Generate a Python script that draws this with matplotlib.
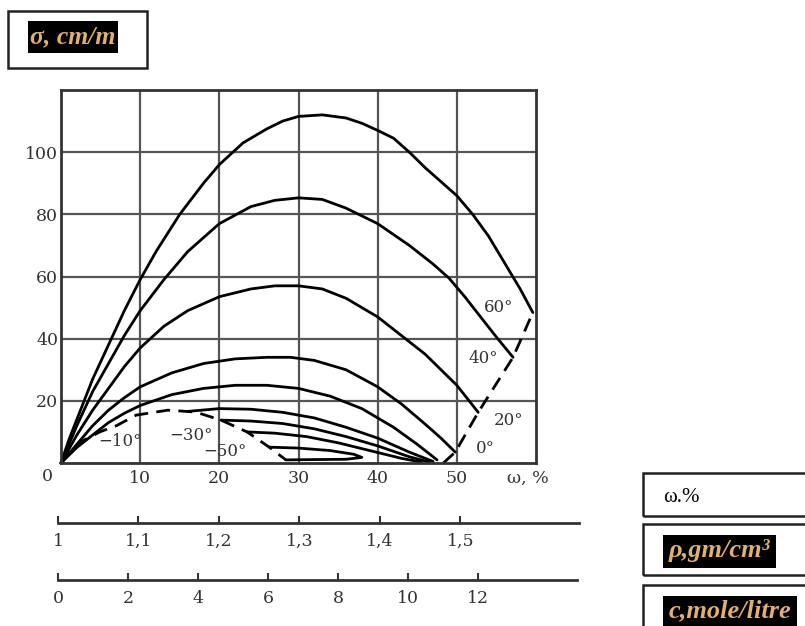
import matplotlib
matplotlib.use("Agg")
import matplotlib.pyplot as plt
from matplotlib.patches import Rectangle

plt.rcParams['font.family'] = ['DejaVu Serif', 'Liberation Serif']

W, H = 805, 626

# ---- data ----
x_ticks = [10, 20, 30, 40, 50]
y_ticks = [20, 40, 60, 80, 100]

t60_x = [0, 1, 2, 4, 6, 8, 10, 12, 15, 18, 20, 23, 26, 28, 30, 33, 36, 38, 40, 42, 44, 46, 48, 50, 52, 54, 56, 58, 59.6]
t60_y = [0, 7.5, 14, 27, 38, 49, 59, 68, 80, 90, 96, 103, 107.5, 110, 111.5, 112, 111, 109.3, 107, 104.5, 100, 95, 90.5, 86, 80, 73, 64.5, 56, 48.4]

t40_x = [0, 1, 2, 4, 6, 8, 10, 13, 16, 20, 24, 27, 30, 33, 36, 40, 44, 47, 49, 51, 53, 55, 57.1]
t40_y = [0, 6, 12, 23, 32, 41, 49, 59, 68, 77, 82.5, 84.5, 85.3, 84.8, 82, 77, 70, 64, 59.5, 53.5, 47, 40.5, 34]

t20_x = [0, 1, 2, 4, 6, 8, 10, 13, 16, 20, 24, 27, 30, 33, 36, 40, 44, 46, 48, 50, 52.7]
t20_y = [0, 4.5, 9, 17, 24, 31, 37, 44, 49, 53.5, 56, 57, 57, 56, 53, 47, 39, 35, 30, 25, 16.3]

t0_x = [0, 1, 2, 4, 6, 8, 10, 14, 18, 22, 26, 29, 32, 36, 40, 43, 46, 48, 49.8]
t0_y = [0, 3, 6, 12, 17, 21, 24.5, 29, 32, 33.5, 34, 34, 33, 30, 24.5, 19, 12.5, 8, 3.5]

ta_x = [0, 1, 2, 4, 6, 8, 10, 14, 18, 22, 26, 30, 34, 38, 42, 45, 47.5]
ta_y = [0, 2.5, 5, 9, 13, 16, 18.5, 22, 24, 25, 25, 24, 21.5, 17.5, 11.5, 6, 1]

tb_x = [16, 20, 24, 28, 32, 36, 40, 44, 47]
tb_y = [16.6, 17.5, 17.3, 16.3, 14.5, 11.5, 8, 3.5, 0.5]

tc_x = [20.2, 24, 28, 32, 36, 40, 44, 46.5]
tc_y = [13.8, 13.5, 12.7, 11, 8.5, 5.5, 2, 0.3]

td_x = [23.5, 27, 31, 35, 39, 43, 45.5]
td_y = [10, 9.6, 8.5, 6.5, 4, 1.5, 0.3]

te_x = [26.3, 30, 34, 37, 38, 36, 32, 28.4]
te_y = [5.1, 4.8, 4, 2.8, 1.8, 1.2, 1.1, 1.0]

left_dash_x = [0, 2.2, 4.9, 7, 9.5, 13.5, 17, 20.2, 23.5, 26.3, 28.4]
left_dash_y = [0, 6.4, 10, 12, 15.4, 17, 16.4, 13.8, 10, 5.1, 1]

right_dash_x = [48.3, 49.8, 52.7, 57.1, 59.6]
right_dash_y = [0, 3.5, 16.3, 34, 48.4]

temp_labels = ["60°", "40°", "20°", "0°", "−10°", "−30°", "−50°"]
temp_lab_x = [55.3, 53.3, 56.6, 53.6, 7.4, 16.4, 20.7]
temp_lab_y = [50, 33.6, 13.8, 4.8, 7.0, 9.0, 3.8]

rho_ticks = [1.0, 1.1, 1.2, 1.3, 1.4, 1.5]
rho_labels = ["1", "1,1", "1,2", "1,3", "1,4", "1,5"]
c_ticks = [0, 2, 4, 6, 8, 10, 12]
c_labels = ["0", "2", "4", "6", "8", "10", "12"]

# ---- figure ----
fig = plt.figure(figsize=(W / 100, H / 100), dpi=100)
fig.patch.set_facecolor('white')

def fbox(x0, y0, x1, y1):
    return [x0 / W, 1 - y1 / H, (x1 - x0) / W, (y1 - y0) / H]

fs = 12.5
tc = '#333333'

ax = fig.add_axes(fbox(61, 90, 536, 463))
ax.set_xlim(0, 60)
ax.set_ylim(0, 120)
ax.set_xticks(x_ticks)
ax.set_yticks(y_ticks)
ax.set_xticklabels([str(v) for v in x_ticks])
ax.set_yticklabels([str(v) for v in y_ticks])
ax.tick_params(length=0, labelsize=fs, colors=tc, pad=2)
ax.tick_params(axis='x', pad=5)
ax.grid(True, color='#555555', linewidth=1.6)
for s in ax.spines.values():
    s.set_color('#333333')
    s.set_linewidth(2)

lw = 2.0
for xs, ys in [(t60_x, t60_y), (t40_x, t40_y), (t20_x, t20_y), (t0_x, t0_y),
               (ta_x, ta_y), (tb_x, tb_y), (tc_x, tc_y), (td_x, td_y), (te_x, te_y)]:
    ax.plot(xs, ys, color='black', linewidth=lw, solid_capstyle='round',
            solid_joinstyle='round', clip_on=False)

ax.plot(left_dash_x, left_dash_y, color='black', linewidth=lw, linestyle=(0, (5, 3)))
ax.plot(right_dash_x, right_dash_y, color='black', linewidth=lw, linestyle=(0, (5, 3)), clip_on=False)

for lab, lx, ly in zip(temp_labels, temp_lab_x, temp_lab_y):
    ax.text(lx, ly, lab, fontsize=12, color=tc, ha='center', va='center')

ax.text(-1.7, -4.2, "0", fontsize=fs, color=tc, ha='center', va='center', clip_on=False)
ax.text(59.0, -4.8, "ω, %", fontsize=fs, color=tc, ha='center', va='center', clip_on=False)

# ---- secondary scales ----
ax_r = fig.add_axes(fbox(58, 500, 579, 523))
ax_r.set_xlim(1.0, 1.0 + (579 - 58) / 804.5)
ax_c = fig.add_axes(fbox(58, 557, 577, 580))
ax_c.set_xlim(0, (577 - 58) / 35.0)
for a, tk, tl in [(ax_r, rho_ticks, rho_labels), (ax_c, c_ticks, c_labels)]:
    a.set_facecolor('none')
    for k in ['top', 'left', 'right']:
        a.spines[k].set_visible(False)
    a.spines['bottom'].set_linewidth(2)
    a.spines['bottom'].set_color('#333333')
    a.set_yticks([])
    a.set_xticks(tk)
    a.set_xticklabels(tl)
    a.tick_params(axis='x', direction='in', length=5, width=1.5, colors=tc,
                  labelsize=fs, pad=7)

# ---- boxes ----
def rect(x0, y0, x1, y1, fc='none', ec='black', lw=2):
    fig.add_artist(Rectangle((x0 / W, 1 - y1 / H), (x1 - x0) / W, (y1 - y0) / H,
                             transform=fig.transFigure, facecolor=fc, edgecolor=ec,
                             linewidth=lw, clip_on=False))

bf = ['Liberation Serif', 'DejaVu Serif']
txtc = '#e0b070'
rect(8, 11, 147, 68, ec='#222222', lw=1.8)
rect(28, 21, 118, 53, fc='black', ec='black', lw=0)
fig.text(73 / W, 1 - 37 / H, "σ, cm/m", fontsize=18.5, fontstyle='italic', fontweight='bold',
         color=txtc, ha='center', va='center', family=bf)

rect(643, 473, 812, 516, ec='#222222', lw=1.8)
fig.text(663 / W, 1 - 497 / H, "ω.%", fontsize=15, color='black', ha='left', va='center',
         family=['Liberation Serif', 'DejaVu Serif'])

rect(643, 524, 812, 575, ec='#222222', lw=1.8)
rect(663, 535, 776, 568, fc='black', ec='black', lw=0)
fig.text(719 / W, 1 - 551 / H, "ρ,gm/cm³", fontsize=19, fontstyle='italic', fontweight='bold',
         color=txtc, ha='center', va='center', family=bf)

rect(643, 585, 812, 640, ec='#222222', lw=1.8)
rect(663, 596, 797, 630, fc='black', ec='black', lw=0)
fig.text(730 / W, 1 - 611 / H, "c,mole/litre", fontsize=19, fontstyle='italic', fontweight='bold',
         color=txtc, ha='center', va='center', family=bf)

fig.savefig("out.png", dpi=100)
